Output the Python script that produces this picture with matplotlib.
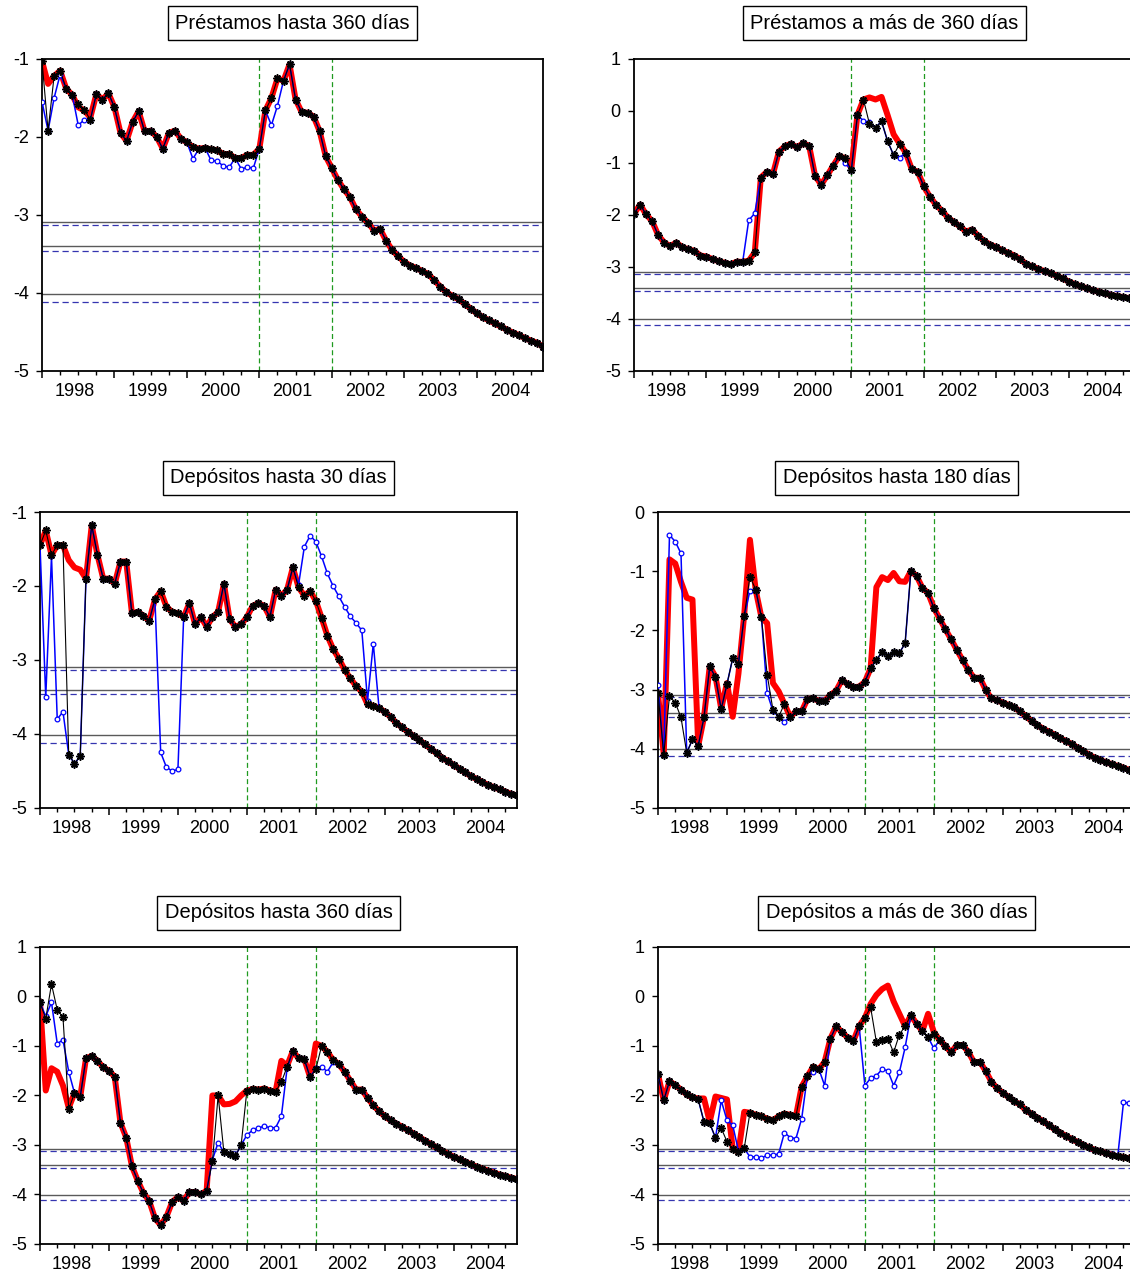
import numpy as np
import matplotlib.pyplot as plt

plt.rcParams['font.family'] = ['Liberation Sans', 'DejaVu Sans']
plt.rcParams['axes.unicode_minus'] = False

# monthly sample 1998:01 - 2004:12
years = ['1998', '1999', '2000', '2001', '2002', '2003', '2004']
x = np.arange(84)

# critical values and break dates (2001:01, 2002:01)
crit_black = [-3.09, -3.40, -4.01]
crit_blue = [-3.13, -3.46, -4.12]
breaks = [36, 48]

# --- Préstamos hasta 360 días
loans360_red = [
    -1.03, -1.32, -1.22, -1.15, -1.38, -1.46, -1.62, -1.66, -1.75, -1.45, -1.52, -1.44,
    -1.62, -1.95, -2.05, -1.81, -1.67, -1.93, -1.92, -2.00, -2.15, -1.95, -1.92, -2.02,
    -2.07, -2.13, -2.15, -2.14, -2.16, -2.17, -2.22, -2.22, -2.27, -2.27, -2.23, -2.23,
    -2.15, -1.66, -1.50, -1.25, -1.28, -1.07, -1.52, -1.68, -1.69, -1.74, -1.93, -2.25,
    -2.40, -2.55, -2.67, -2.77, -2.93, -3.02, -3.10, -3.20, -3.18, -3.33, -3.45, -3.53,
    -3.60, -3.65, -3.68, -3.72, -3.76, -3.84, -3.92, -3.99, -4.04, -4.08, -4.14, -4.20,
    -4.26, -4.31, -4.35, -4.39, -4.43, -4.47, -4.51, -4.54, -4.58, -4.61, -4.64, -4.69]
loans360_black = [
    -1.03, -1.92, -1.22, -1.15, -1.38, -1.46, -1.58, -1.65, -1.78, -1.45, -1.52, -1.44,
    -1.62, -1.95, -2.05, -1.81, -1.67, -1.93, -1.92, -2.00, -2.15, -1.95, -1.92, -2.02,
    -2.07, -2.13, -2.15, -2.14, -2.16, -2.17, -2.22, -2.22, -2.27, -2.27, -2.23, -2.23,
    -2.15, -1.66, -1.50, -1.25, -1.28, -1.07, -1.52, -1.68, -1.69, -1.74, -1.93, -2.25,
    -2.40, -2.55, -2.67, -2.77, -2.93, -3.02, -3.10, -3.20, -3.18, -3.33, -3.45, -3.53,
    -3.60, -3.65, -3.68, -3.72, -3.76, -3.84, -3.92, -3.99, -4.04, -4.08, -4.14, -4.20,
    -4.26, -4.31, -4.35, -4.39, -4.43, -4.47, -4.51, -4.54, -4.58, -4.61, -4.64, -4.69]
loans360_blue = [
    -1.55, -1.92, -1.50, -1.20, -1.38, -1.46, -1.85, -1.78, -1.78, -1.45, -1.52, -1.44,
    -1.62, -1.95, -2.05, -1.81, -1.67, -1.93, -1.92, -2.00, -2.15, -1.95, -1.92, -2.02,
    -2.07, -2.28, -2.15, -2.14, -2.30, -2.31, -2.37, -2.39, -2.27, -2.41, -2.39, -2.40,
    -2.15, -1.66, -1.85, -1.60, -1.28, -1.07, -1.52, -1.68, -1.69, -1.74, -1.93, -2.25,
    -2.40, -2.55, -2.67, -2.77, -2.93, -3.02, -3.10, -3.20, -3.18, -3.33, -3.45, -3.53,
    -3.60, -3.65, -3.68, -3.72, -3.76, -3.84, -3.92, -3.99, -4.04, -4.08, -4.14, -4.20,
    -4.26, -4.31, -4.35, -4.39, -4.43, -4.47, -4.51, -4.54, -4.58, -4.61, -4.64, -4.69]

# --- Préstamos a más de 360 días
loansover_red = [
    -1.98, -1.80, -1.99, -2.12, -2.39, -2.53, -2.60, -2.53, -2.62, -2.66, -2.69, -2.78,
    -2.80, -2.85, -2.89, -2.92, -2.95, -2.90, -2.90, -2.88, -2.72, -1.28, -1.17, -1.22,
    -0.78, -0.68, -0.63, -0.70, -0.62, -0.67, -1.25, -1.42, -1.24, -1.05, -0.87, -0.91,
    -1.10, -0.08, 0.22, 0.26, 0.22, 0.27, -0.08, -0.45, -0.63, -0.80, -1.12, -1.17,
    -1.45, -1.65, -1.80, -1.92, -2.05, -2.14, -2.22, -2.32, -2.28, -2.40, -2.50, -2.57,
    -2.62, -2.68, -2.73, -2.78, -2.85, -2.95, -2.99, -3.04, -3.08, -3.12, -3.17, -3.22,
    -3.28, -3.33, -3.37, -3.41, -3.45, -3.48, -3.51, -3.54, -3.56, -3.58, -3.60, -3.63]
loansover_black = [
    -1.98, -1.80, -1.99, -2.12, -2.39, -2.53, -2.60, -2.53, -2.62, -2.66, -2.69, -2.78,
    -2.80, -2.85, -2.89, -2.92, -2.95, -2.90, -2.90, -2.88, -2.72, -1.28, -1.17, -1.22,
    -0.78, -0.68, -0.63, -0.70, -0.62, -0.67, -1.25, -1.42, -1.24, -1.05, -0.87, -0.91,
    -1.14, -0.08, 0.22, -0.25, -0.32, -0.20, -0.58, -0.85, -0.63, -0.80, -1.12, -1.17,
    -1.45, -1.65, -1.80, -1.92, -2.05, -2.14, -2.22, -2.32, -2.28, -2.40, -2.50, -2.57,
    -2.62, -2.68, -2.73, -2.78, -2.85, -2.95, -2.99, -3.04, -3.08, -3.12, -3.17, -3.22,
    -3.28, -3.33, -3.37, -3.41, -3.45, -3.48, -3.51, -3.54, -3.56, -3.58, -3.60, -3.63]
loansover_blue = [
    -1.98, -1.80, -1.99, -2.12, -2.39, -2.53, -2.60, -2.53, -2.62, -2.66, -2.69, -2.78,
    -2.80, -2.85, -2.89, -2.92, -2.95, -2.90, -2.90, -2.10, -1.97, -1.28, -1.17, -1.22,
    -0.78, -0.68, -0.63, -0.70, -0.62, -0.67, -1.25, -1.42, -1.24, -1.05, -0.87, -1.00,
    -1.14, -0.08, -0.19, -0.22, -0.32, -0.20, -0.58, -0.85, -0.90, -0.80, -1.12, -1.17,
    -1.45, -1.65, -1.80, -1.92, -2.05, -2.14, -2.22, -2.32, -2.28, -2.40, -2.50, -2.57,
    -2.62, -2.68, -2.73, -2.78, -2.85, -2.95, -2.99, -3.04, -3.08, -3.12, -3.17, -3.22,
    -3.28, -3.33, -3.37, -3.41, -3.45, -3.48, -3.51, -3.54, -3.56, -3.58, -3.60, -3.63]

# --- Depósitos hasta 30 días
dep30_red = [
    -1.45, -1.25, -1.58, -1.45, -1.45, -1.65, -1.75, -1.78, -1.90, -1.18, -1.58, -1.90,
    -1.90, -1.97, -1.67, -1.67, -2.37, -2.35, -2.40, -2.47, -2.18, -2.07, -2.28, -2.35,
    -2.37, -2.42, -2.23, -2.52, -2.42, -2.55, -2.42, -2.35, -1.97, -2.45, -2.55, -2.52,
    -2.42, -2.27, -2.23, -2.27, -2.42, -2.05, -2.13, -2.05, -1.75, -2.02, -2.13, -2.07,
    -2.20, -2.43, -2.67, -2.85, -2.98, -3.13, -3.25, -3.35, -3.43, -3.60, -3.62, -3.65,
    -3.70, -3.77, -3.85, -3.91, -3.97, -4.03, -4.08, -4.14, -4.20, -4.26, -4.32, -4.37,
    -4.42, -4.47, -4.52, -4.57, -4.61, -4.65, -4.69, -4.72, -4.75, -4.78, -4.81, -4.83]
dep30_black = [
    -1.45, -1.25, -1.58, -1.45, -1.45, -4.28, -4.40, -4.30, -1.90, -1.18, -1.58, -1.90,
    -1.90, -1.97, -1.67, -1.67, -2.37, -2.35, -2.40, -2.47, -2.18, -2.07, -2.28, -2.35,
    -2.37, -2.42, -2.23, -2.52, -2.42, -2.55, -2.42, -2.35, -1.97, -2.45, -2.55, -2.52,
    -2.42, -2.27, -2.23, -2.27, -2.42, -2.05, -2.13, -2.05, -1.75, -2.02, -2.13, -2.07,
    -2.20, -2.43, -2.67, -2.85, -2.98, -3.13, -3.25, -3.35, -3.43, -3.60, -3.62, -3.65,
    -3.70, -3.77, -3.85, -3.91, -3.97, -4.03, -4.08, -4.14, -4.20, -4.26, -4.32, -4.37,
    -4.42, -4.47, -4.52, -4.57, -4.61, -4.65, -4.69, -4.72, -4.75, -4.78, -4.81, -4.83]
dep30_blue = [
    -1.45, -3.50, -1.60, -3.80, -3.70, -4.28, -4.40, -4.30, -1.90, -1.18, -1.58, -1.90,
    -1.90, -1.97, -1.67, -1.67, -2.37, -2.35, -2.40, -2.47, -2.18, -4.25, -4.45, -4.50,
    -4.48, -2.42, -2.23, -2.52, -2.42, -2.55, -2.42, -2.35, -1.97, -2.45, -2.55, -2.52,
    -2.42, -2.27, -2.23, -2.27, -2.42, -2.05, -2.13, -2.05, -1.75, -1.98, -1.47, -1.32,
    -1.40, -1.60, -1.83, -2.00, -2.14, -2.28, -2.41, -2.50, -2.60, -3.55, -2.78, -3.65,
    -3.70, -3.77, -3.85, -3.91, -3.97, -4.03, -4.08, -4.14, -4.20, -4.26, -4.32, -4.37,
    -4.42, -4.47, -4.52, -4.57, -4.61, -4.65, -4.69, -4.72, -4.75, -4.78, -4.81, -4.83]

# --- Depósitos hasta 180 días
dep180_red = [
    -3.06, -4.10, -0.80, -0.87, -1.18, -1.45, -1.48, -3.95, -3.47, -2.61, -2.78, -3.32,
    -2.89, -3.46, -2.73, -1.74, -0.47, -1.32, -1.78, -1.88, -2.89, -3.03, -3.24, -3.46,
    -3.37, -3.37, -3.16, -3.15, -3.19, -3.19, -3.09, -3.02, -2.84, -2.91, -2.96, -2.95,
    -2.87, -2.64, -1.27, -1.10, -1.15, -1.03, -1.17, -1.18, -1.00, -1.08, -1.28, -1.37,
    -1.62, -1.80, -1.98, -2.15, -2.33, -2.50, -2.67, -2.80, -2.80, -3.00, -3.15, -3.18,
    -3.22, -3.26, -3.30, -3.37, -3.45, -3.53, -3.60, -3.66, -3.71, -3.76, -3.82, -3.87,
    -3.92, -3.98, -4.04, -4.10, -4.15, -4.19, -4.23, -4.26, -4.29, -4.32, -4.36, -4.39]
dep180_black = [
    -3.06, -4.10, -3.11, -3.22, -3.47, -4.07, -3.84, -3.95, -3.47, -2.61, -2.79, -3.33,
    -2.91, -2.47, -2.56, -1.76, -1.09, -1.31, -1.78, -2.75, -3.34, -3.46, -3.24, -3.46,
    -3.37, -3.37, -3.16, -3.15, -3.19, -3.19, -3.09, -3.02, -2.84, -2.91, -2.96, -2.95,
    -2.87, -2.64, -2.50, -2.36, -2.43, -2.36, -2.38, -2.22, -1.00, -1.08, -1.28, -1.37,
    -1.62, -1.80, -1.98, -2.15, -2.33, -2.50, -2.67, -2.80, -2.80, -3.00, -3.15, -3.18,
    -3.22, -3.26, -3.30, -3.37, -3.45, -3.53, -3.60, -3.66, -3.71, -3.76, -3.82, -3.87,
    -3.92, -3.98, -4.04, -4.10, -4.15, -4.19, -4.23, -4.26, -4.29, -4.32, -4.36, -4.39]
dep180_blue = [
    -2.92, -4.10, -0.39, -0.50, -0.70, -4.07, -3.84, -3.95, -3.47, -2.61, -2.79, -3.33,
    -2.91, -2.47, -2.56, -1.76, -1.33, -1.31, -1.78, -3.06, -3.36, -3.46, -3.54, -3.46,
    -3.37, -3.37, -3.16, -3.15, -3.19, -3.19, -3.09, -3.02, -2.84, -2.91, -2.96, -2.95,
    -2.87, -2.64, -2.50, -2.36, -2.43, -2.36, -2.38, -2.22, -1.00, -1.08, -1.28, -1.37,
    -1.62, -1.80, -1.98, -2.15, -2.33, -2.50, -2.67, -2.80, -2.80, -3.00, -3.15, -3.18,
    -3.22, -3.26, -3.30, -3.37, -3.45, -3.53, -3.60, -3.66, -3.71, -3.76, -3.82, -3.87,
    -3.92, -3.98, -4.04, -4.10, -4.15, -4.19, -4.23, -4.26, -4.29, -4.32, -4.36, -4.39]

# --- Depósitos hasta 360 días
dep360_red = [
    -0.10, -1.90, -1.45, -1.52, -1.80, -2.25, -1.95, -2.03, -1.25, -1.20, -1.30, -1.43,
    -1.50, -1.62, -2.55, -2.85, -3.43, -3.72, -3.97, -4.13, -4.48, -4.62, -4.45, -4.15,
    -4.05, -4.13, -3.95, -3.95, -4.00, -3.92, -2.00, -2.00, -2.18, -2.17, -2.12, -2.00,
    -1.90, -1.87, -1.88, -1.86, -1.90, -1.92, -1.30, -1.40, -1.10, -1.25, -1.27, -1.63,
    -0.95, -1.00, -1.12, -1.28, -1.37, -1.52, -1.70, -1.88, -1.88, -2.05, -2.20, -2.32,
    -2.42, -2.50, -2.57, -2.63, -2.70, -2.77, -2.84, -2.91, -2.98, -3.05, -3.12, -3.18,
    -3.24, -3.29, -3.34, -3.39, -3.44, -3.48, -3.52, -3.56, -3.60, -3.63, -3.66, -3.69]
dep360_black = [
    -0.12, -0.45, 0.25, -0.27, -0.42, -2.28, -1.95, -2.03, -1.25, -1.20, -1.30, -1.43,
    -1.50, -1.62, -2.55, -2.85, -3.43, -3.72, -3.97, -4.13, -4.48, -4.62, -4.45, -4.15,
    -4.05, -4.13, -3.95, -3.95, -4.00, -3.92, -3.33, -2.00, -3.15, -3.18, -3.22, -3.00,
    -1.90, -1.87, -1.88, -1.86, -1.90, -1.92, -1.73, -1.42, -1.10, -1.25, -1.27, -1.63,
    -1.47, -1.00, -1.12, -1.28, -1.37, -1.52, -1.70, -1.88, -1.88, -2.05, -2.20, -2.32,
    -2.42, -2.50, -2.57, -2.63, -2.70, -2.77, -2.84, -2.91, -2.98, -3.05, -3.12, -3.18,
    -3.24, -3.29, -3.34, -3.39, -3.44, -3.48, -3.52, -3.56, -3.60, -3.63, -3.66, -3.69]
dep360_blue = [
    -0.12, -0.40, -0.12, -0.95, -0.88, -1.52, -1.95, -2.03, -1.25, -1.20, -1.30, -1.43,
    -1.50, -1.62, -2.55, -2.85, -3.43, -3.72, -3.97, -4.13, -4.48, -4.62, -4.45, -4.15,
    -4.05, -4.13, -3.95, -3.95, -4.00, -3.92, -3.30, -2.95, -3.15, -3.18, -3.22, -3.00,
    -2.80, -2.70, -2.66, -2.62, -2.65, -2.65, -2.42, -1.45, -1.10, -1.25, -1.27, -1.63,
    -1.45, -1.42, -1.52, -1.33, -1.37, -1.52, -1.70, -1.88, -1.88, -2.05, -2.20, -2.32,
    -2.42, -2.50, -2.57, -2.63, -2.70, -2.77, -2.84, -2.91, -2.98, -3.05, -3.12, -3.18,
    -3.24, -3.29, -3.34, -3.39, -3.44, -3.48, -3.52, -3.56, -3.60, -3.63, -3.66, -3.69]

# --- Depósitos a más de 360 días
depover_red = [
    -1.57, -2.10, -1.71, -1.79, -1.88, -1.98, -2.04, -2.06, -2.06, -2.53, -2.02, -2.05,
    -2.08, -3.07, -3.14, -2.33, -2.35, -2.39, -2.42, -2.47, -2.50, -2.42, -2.37, -2.39,
    -2.42, -1.82, -1.61, -1.42, -1.47, -1.32, -0.85, -0.60, -0.72, -0.83, -0.90, -0.60,
    -0.43, -0.15, 0.03, 0.15, 0.22, -0.10, -0.35, -0.60, -0.38, -0.55, -0.70, -0.35,
    -0.72, -0.88, -1.00, -1.13, -0.98, -0.98, -1.12, -1.33, -1.32, -1.50, -1.72, -1.85,
    -1.95, -2.03, -2.12, -2.18, -2.30, -2.37, -2.45, -2.52, -2.60, -2.68, -2.75, -2.82,
    -2.88, -2.94, -3.00, -3.05, -3.10, -3.13, -3.17, -3.20, -3.23, -3.25, -3.27, -3.30]
depover_black = [
    -1.57, -2.10, -1.71, -1.79, -1.88, -1.98, -2.04, -2.08, -2.53, -2.56, -2.85, -2.66,
    -2.93, -3.09, -3.14, -3.07, -2.35, -2.39, -2.42, -2.47, -2.50, -2.42, -2.37, -2.39,
    -2.42, -1.82, -1.61, -1.42, -1.47, -1.32, -0.85, -0.60, -0.72, -0.83, -0.90, -0.60,
    -0.43, -0.22, -0.92, -0.87, -0.85, -1.13, -0.77, -0.60, -0.38, -0.55, -0.70, -0.82,
    -0.75, -0.88, -1.00, -1.13, -0.98, -0.98, -1.12, -1.33, -1.32, -1.50, -1.72, -1.85,
    -1.95, -2.03, -2.12, -2.18, -2.30, -2.37, -2.45, -2.52, -2.60, -2.68, -2.75, -2.82,
    -2.88, -2.94, -3.00, -3.05, -3.10, -3.13, -3.17, -3.20, -3.23, -3.25, -3.27, -3.30]
depover_blue = [
    -1.57, -2.10, -1.71, -1.79, -1.88, -1.98, -2.04, -2.08, -2.53, -2.56, -2.86, -2.10,
    -2.50, -2.60, -3.12, -3.07, -3.24, -3.24, -3.27, -3.20, -3.21, -3.18, -2.75, -2.85,
    -2.87, -2.47, -1.60, -1.52, -1.47, -1.80, -0.85, -0.60, -0.72, -0.83, -0.90, -0.60,
    -1.80, -1.65, -1.60, -1.47, -1.50, -1.80, -1.53, -1.03, -0.38, -0.55, -0.70, -0.82,
    -1.05, -0.88, -1.00, -1.13, -0.98, -0.98, -1.12, -1.33, -1.32, -1.50, -1.72, -1.85,
    -1.95, -2.03, -2.12, -2.18, -2.30, -2.37, -2.45, -2.52, -2.60, -2.68, -2.75, -2.82,
    -2.88, -2.94, -3.00, -3.05, -3.10, -3.13, -3.17, -3.20, -3.23, -2.14, -2.15, -2.15]

panels = [
    ('Préstamos hasta 360 días', loans360_red, loans360_black, loans360_blue, -1,
     [0.0372, 0.7086, 0.4434, 0.2451]),
    ('Préstamos a más de 360 días', loansover_red, loansover_black, loansover_blue, 1,
     [0.5611, 0.7086, 0.4434, 0.2451]),
    ('Depósitos hasta 30 días', dep30_red, dep30_black, dep30_blue, -1,
     [0.0354, 0.3653, 0.4221, 0.2325]),
    ('Depósitos hasta 180 días', dep180_red, dep180_black, dep180_blue, 0,
     [0.5823, 0.3653, 0.4221, 0.2325]),
    ('Depósitos hasta 360 días', dep360_red, dep360_black, dep360_blue, 1,
     [0.0354, 0.0228, 0.4221, 0.2333]),
    ('Depósitos a más de 360 días', depover_red, depover_black, depover_blue, 1,
     [0.5823, 0.0228, 0.4221, 0.2333]),
]

fig = plt.figure(figsize=(11.3, 12.73), dpi=100)

for title, red, black, blue, ytop, rect in panels:
    ax = fig.add_axes(rect)

    for v in crit_black:
        ax.axhline(v, color='#5a5a5a', lw=1.0, zorder=1)
    for v in crit_blue:
        ax.axhline(v, color='#3535b0', lw=0.9, ls=(0, (5, 3)), zorder=1)
    for b in breaks:
        ax.axvline(b, color='#1f9a1f', lw=0.9, ls=(0, (4, 2.5)), zorder=1.5)

    ax.plot(x, red, color='#ff0000', lw=4.3, solid_joinstyle='round',
            solid_capstyle='round', zorder=2)
    ax.plot(x, blue, color='#0000ff', lw=1.1, marker='o', ms=3.4,
            mfc='white', mec='#0000ff', mew=0.9, zorder=3)
    ax.plot(x, black, color='black', lw=0.8, marker=(8, 2, 0), ms=5.8,
            mew=1.15, zorder=4)

    ax.set_xlim(0, 83)
    ax.set_ylim(-5, ytop)
    ax.set_yticks(range(-5, ytop + 1))

    # year boundaries as long ticks, quarters as short ones
    ax.set_xticks(range(0, 84, 12))
    ax.set_xticklabels([])
    ax.set_xticks([q for q in range(3, 84, 3) if q % 12], minor=True)
    ax.tick_params(axis='x', which='major', direction='out', length=4.8, width=1.1)
    ax.tick_params(axis='x', which='minor', direction='out', length=2.9, width=1.0)
    ax.tick_params(axis='y', direction='out', length=4.5, width=1.0,
                   labelsize=13, pad=5)

    # year labels centred in each year
    sec = ax.secondary_xaxis('bottom')
    sec.set_ticks([12 * k + 5.5 for k in range(len(years))], labels=years)
    sec.tick_params(length=0, labelsize=13, pad=8.5)
    sec.spines['bottom'].set_visible(False)

    for s in ax.spines.values():
        s.set_linewidth(1.3)

    ax.text(0.5, 1.115, title, transform=ax.transAxes, ha='center', va='center',
            fontsize=14.5,
            bbox=dict(boxstyle='square,pad=0.38', fc='white', ec='black', lw=1.0))

fig.savefig('out.png', dpi=100)
